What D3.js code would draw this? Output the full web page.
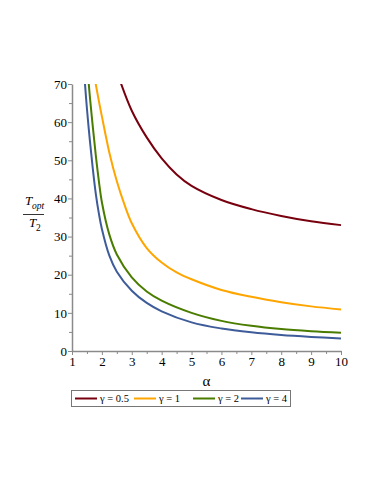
<!DOCTYPE html>
<html>
<head>
<meta charset="utf-8">
<script src="https://cdn.jsdelivr.net/npm/d3@7"></script>
<style>
  body { margin: 0; background: #fff; }
  .axis path, .axis line { stroke: #8a8a8a; }
</style>
</head>
<body>
<svg id="chart" width="374" height="484"></svg>
<script>
// values (alpha, T_opt/T_2) for each gamma
var alphaG05 = [2.6, 3, 3.5, 4, 4.5, 5, 6, 7, 8, 9, 10];
var valsG05  = [71, 63, 56, 50.5, 46.3, 43.3, 39.6, 37.2, 35.4, 34, 33];

var alphaG1 = [1.77, 1.9, 2, 2.25, 2.5, 2.75, 3, 3.5, 4, 4.5, 5, 6, 7, 8, 9, 10];
var valsG1  = [71, 65.5, 61.5, 52, 44.5, 38.5, 33.5, 27, 23.2, 20.6, 18.8, 16, 14.2, 12.8, 11.7, 10.9];

var alphaG2 = [1.55, 1.6, 1.7, 1.8, 1.9, 2, 2.25, 2.5, 3, 3.5, 4, 5, 6, 7, 8, 9, 10];
var valsG2  = [71, 66.5, 58.5, 51, 44.5, 39, 30.5, 25.3, 19.3, 15.6, 13.2, 10, 7.9, 6.6, 5.75, 5.2, 4.8];

var alphaG4 = [1.43, 1.5, 1.6, 1.7, 1.8, 1.9, 2, 2.25, 2.5, 3, 3.5, 4, 5, 6, 7, 8, 9, 10];
var valsG4  = [70.5, 63.5, 55, 47.5, 41, 36, 32, 25, 20.8, 15.8, 12.6, 10.4, 7.5, 5.9, 4.9, 4.2, 3.7, 3.3];

var seriesNames = ["\u03b3 = 0.5", "\u03b3 = 1", "\u03b3 = 2", "\u03b3 = 4"];
var seriesColors = ["#78000e", "#ffa500", "#4a7c00", "#3e5c9a"];

var xTicks = [1, 2, 3, 4, 5, 6, 7, 8, 9, 10];
var xMinor = d3.range(1.5, 10, 1);
var yTicks = [0, 10, 20, 30, 40, 50, 60, 70];
var yMinor = d3.range(5, 70, 10);

var serif = '"Liberation Serif", "DejaVu Serif", "Times New Roman", serif';

var series = [
  {name: seriesNames[0], color: seriesColors[0], pts: d3.zip(alphaG05, valsG05)},
  {name: seriesNames[1], color: seriesColors[1], pts: d3.zip(alphaG1, valsG1)},
  {name: seriesNames[2], color: seriesColors[2], pts: d3.zip(alphaG2, valsG2)},
  {name: seriesNames[3], color: seriesColors[3], pts: d3.zip(alphaG4, valsG4)}
];

var svg = d3.select("#chart");
var x = d3.scaleLinear().domain([1, 10]).range([72, 341]);
var y = d3.scaleLinear().domain([0, 70]).range([351, 84]);

svg.append("clipPath").attr("id", "plotclip")
  .append("rect")
  .attr("x", x(1)).attr("y", y(70))
  .attr("width", x(10) - x(1) + 2).attr("height", y(0) - y(70));

// minor ticks first, then the labelled axes on top
svg.append("g").attr("class", "axis")
  .attr("transform", "translate(0," + y(0) + ")")
  .call(d3.axisBottom(x).tickValues(xMinor).tickSize(3).tickFormat(""))
  .select(".domain").remove();
svg.append("g").attr("class", "axis")
  .attr("transform", "translate(" + x(1) + ",0)")
  .call(d3.axisLeft(y).tickValues(yMinor).tickSize(3).tickFormat(""))
  .select(".domain").remove();

var xAxis = svg.append("g").attr("class", "axis")
  .attr("transform", "translate(0," + y(0) + ")")
  .call(d3.axisBottom(x).tickValues(xTicks).tickSize(4).tickSizeOuter(0).tickPadding(2));
var yAxis = svg.append("g").attr("class", "axis")
  .attr("transform", "translate(" + x(1) + ",0)")
  .call(d3.axisLeft(y).tickValues(yTicks).tickSize(4).tickSizeOuter(0).tickPadding(1));
svg.selectAll(".axis").attr("font-family", serif).attr("font-size", 13);
svg.selectAll(".axis text").attr("fill", "#000");
xAxis.select(".domain").attr("stroke-width", 1.5);
yAxis.select(".domain").attr("stroke-width", 1.5);

var line = d3.line()
  .x(function(d) { return x(d[0]); })
  .y(function(d) { return y(d[1]); })
  .curve(d3.curveCatmullRom.alpha(0.5));

svg.append("g").attr("clip-path", "url(#plotclip)")
  .selectAll("path")
  .data(series)
  .enter().append("path")
  .attr("d", function(d) { return line(d.pts); })
  .attr("fill", "none")
  .attr("stroke", function(d) { return d.color; })
  .attr("stroke-width", 2);

// axis labels
svg.append("text")
  .attr("x", (x(1) + x(10)) / 2).attr("y", 386)
  .attr("text-anchor", "middle")
  .attr("font-family", serif).attr("font-size", 15)
  .text("\u03b1");

var ylab = svg.append("g").attr("font-family", serif);
ylab.append("text").attr("x", 25).attr("y", 205)
  .attr("font-size", 13).attr("font-style", "italic").text("T");
ylab.append("text").attr("x", 32).attr("y", 209)
  .attr("font-size", 9.5).attr("font-style", "italic").text("opt");
ylab.append("line")
  .attr("x1", 23).attr("x2", 44).attr("y1", 214.5).attr("y2", 214.5)
  .attr("stroke", "#000").attr("stroke-width", 0.8);
ylab.append("text").attr("x", 29).attr("y", 227)
  .attr("font-size", 13).attr("font-style", "italic").text("T");
ylab.append("text").attr("x", 36).attr("y", 231)
  .attr("font-size", 9.5).text("2");

// legend
var legendX = [75, 134, 193, 241];
var legend = svg.append("g").attr("font-family", serif);
legend.append("rect")
  .attr("x", 71.5).attr("y", 390.5).attr("width", 219).attr("height", 16)
  .attr("fill", "none").attr("stroke", "#777").attr("stroke-width", 1);
var items = legend.selectAll("g.item")
  .data(series)
  .enter().append("g").attr("class", "item")
  .attr("transform", function(d, i) { return "translate(" + legendX[i] + ",398.5)"; });
items.append("line")
  .attr("x1", 0).attr("x2", 22)
  .attr("stroke", function(d) { return d.color; })
  .attr("stroke-width", 2);
items.append("text")
  .attr("x", 25).attr("y", 3.5)
  .attr("font-size", 10.5)
  .text(function(d) { return d.name; });
</script>
</body>
</html>
